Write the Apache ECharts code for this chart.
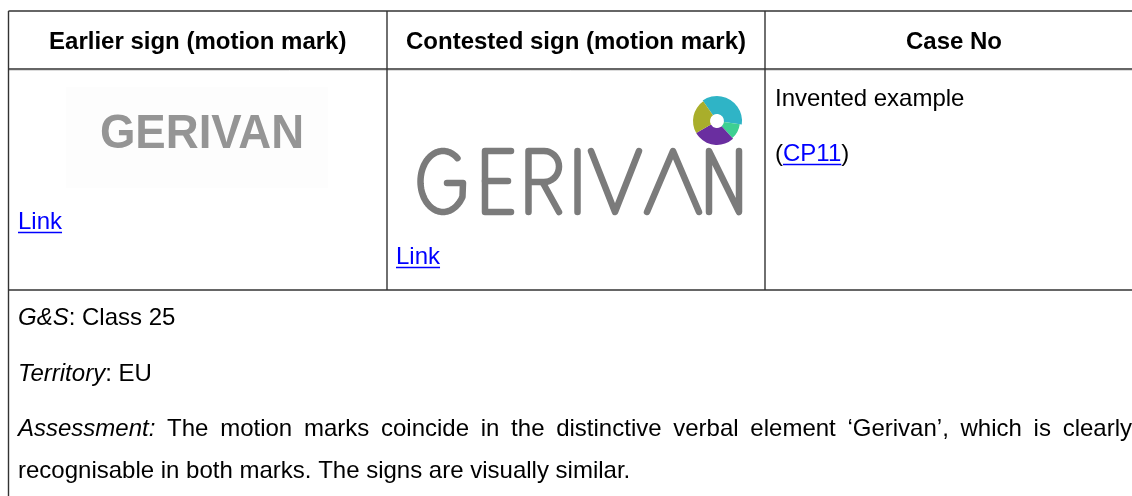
<!DOCTYPE html>
<html>
<head>
<meta charset="utf-8">
<script src="https://cdn.jsdelivr.net/npm/echarts@6/dist/echarts.min.js"></script>
<style>
  html, body { margin: 0; padding: 0; background: #ffffff; }
  #chart { width: 1132px; height: 496px; }
</style>
</head>
<body>
<div id="chart"></div>
<script>
// ---- content ----
const headers = ['Earlier sign (motion mark)', 'Contested sign (motion mark)', 'Case No'];
const linkLabel = 'Link';
const logoWord = 'GERIVAN';
const caseNote = 'Invented example';
const caseRef = ['(', 'CP11', ')'];
const detailLabels = ['G&S', 'Territory'];
const detailValues = [': Class 25', ': EU'];
const assessmentLabel = 'Assessment:';
const assessmentLines = [
  'The motion marks coincide in the distinctive verbal element \u2018Gerivan\u2019, which is clearly',
  'recognisable in both marks. The signs are visually similar.'
];
const swirlColors = ['#2fb4c6', '#3ecf92', '#6a2ea0', '#a9ae2b'];

// ---- layout ----
const FAM = '"Liberation Sans", Arial, Helvetica, sans-serif';
const FS = 24;
const DY = 2;
const colX = [8.5, 387, 765, 1143];
const rowY = [11, 69, 290, 530];
const BORDER = '#333333';
const BLUE = '#0000ff';

const mctx = document.createElement('canvas').getContext('2d');
function measure(text, style, weight) {
  mctx.font = (style || 'normal') + ' ' + (weight || 'normal') + ' ' + FS + 'px ' + FAM;
  return mctx.measureText(text).width;
}

const els = [];
function txt(x, y, text, opt) {
  opt = opt || {};
  els.push({
    type: 'text', x: x, y: y + DY, silent: true,
    style: {
      text: text, x: 0, y: 0,
      fill: opt.fill || '#000000',
      font: (opt.style || 'normal') + ' ' + (opt.weight || 'normal') + ' ' + (opt.size || FS) + 'px ' + FAM,
      align: opt.align || 'left', verticalAlign: 'middle'
    },
    scaleX: opt.scaleX || 1
  });
}
function line(x1, y1, x2, y2, color, w) {
  els.push({ type: 'line', silent: true, shape: { x1: x1, y1: y1, x2: x2, y2: y2 },
    style: { stroke: color, lineWidth: w || 1 } });
}
function link(x, y, text) {
  txt(x, y, text, { fill: BLUE });
  const w = measure(text);
  line(x, y + DY + 10.5, x + w, y + DY + 10.5, BLUE, 1.3);
  return w;
}

// borders
line(colX[0], rowY[0], 1132, rowY[0], BORDER, 1.4);
line(colX[0], rowY[1], 1132, rowY[1], BORDER, 1.4);
line(colX[0], rowY[1] + 1.5, 1132, rowY[1] + 1.5, '#dcdcdc', 1);
line(colX[0], rowY[2], 1132, rowY[2], BORDER, 1.4);
line(colX[0], rowY[0], colX[0], 496, BORDER, 1.4);
line(colX[1], rowY[0], colX[1], rowY[2], BORDER, 1.4);
line(colX[2], rowY[0], colX[2], rowY[2], BORDER, 1.4);

// headers
headers.forEach(function (h, i) {
  txt((colX[i] + colX[i + 1]) / 2, 40, h, { weight: 'bold', align: 'center' });
});

// earlier logo (raster-like, bold grey)
els.push({ type: 'rect', silent: true, shape: { x: 66, y: 87, width: 262, height: 101 },
  style: { fill: '#fdfdfd' } });
els.push({
  type: 'text', x: 202, y: 134, scaleX: 0.93, silent: true,
  style: { text: logoWord, x: 0, y: 0, fill: '#959595', font: 'bold 49px ' + FAM,
    align: 'center', verticalAlign: 'middle', shadowBlur: 2, shadowColor: 'rgba(150,150,150,0.7)' }
});
link(18, 220, linkLabel);

// contested logo: thin geometric letters
const LW = 6.5, LC = '#7b7b7b';
function pl(points) {
  els.push({ type: 'polyline', silent: true, shape: { points: points },
    style: { stroke: LC, lineWidth: LW, lineCap: 'round', lineJoin: 'round', fill: null } });
}
(function () {
  const g = [];
  const cx = 443, cy = 181.5, rx = 22.5, ry = 30.5;
  for (let a = -50; a >= -330; a -= 5) {
    const r = a * Math.PI / 180;
    g.push([cx + rx * Math.cos(r), cy + ry * Math.sin(r)]);
  }
  g.push([463, 183], [447, 183]);
  pl(g);
  // E
  pl([[511, 151], [485, 151], [485, 212], [511, 212]]);
  pl([[485, 181], [508, 181]]);
  // R
  const rp = [[528.5, 212], [528.5, 151], [544, 151]];
  for (let a = -90; a <= 90; a += 10) {
    const r = a * Math.PI / 180;
    rp.push([544 + 15 * Math.cos(r), 166.5 + 15.5 * Math.sin(r)]);
  }
  rp.push([528.5, 182]);
  pl(rp);
  pl([[543, 183], [559, 212]]);
  // I
  pl([[577.5, 151], [577.5, 212]]);
  // V
  pl([[591, 151], [615, 212], [639, 151]]);
  // A
  pl([[647, 212], [673, 151], [699, 212]]);
  // N
  pl([[709, 212], [709, 151], [739, 212], [739, 151]]);
})();
// swirl emblem
(function () {
  const cx = 717, cy = 121;
  const spans = [[-125, 8, 25], [8, 48, 23], [48, 150, 24], [150, 235, 24]];
  spans.forEach(function (s, i) {
    els.push({ type: 'sector', silent: true,
      shape: { cx: cx, cy: cy, r0: 7, r: s[2], startAngle: s[0] * Math.PI / 180, endAngle: s[1] * Math.PI / 180, clockwise: true },
      style: { fill: swirlColors[i] } });
  });
  els.push({ type: 'circle', silent: true, shape: { cx: cx, cy: cy, r: 6 }, style: { fill: '#ffffff' } });
})();
link(396, 255, linkLabel);

// case column
txt(775, 97, caseNote);
(function () {
  let x = 775;
  txt(x, 152, caseRef[0]); x += measure(caseRef[0]);
  x += link(x, 152, caseRef[1]);
  txt(x, 152, caseRef[2]);
})();

// details
const detailY = [316, 372];
detailLabels.forEach(function (lab, i) {
  txt(18, detailY[i], lab, { style: 'italic' });
  txt(18 + measure(lab, 'italic'), detailY[i], detailValues[i]);
});

// assessment paragraph (justified first line)
(function () {
  const left = 18, right = 1132;
  const words = [{ t: assessmentLabel, s: 'italic' }].concat(
    assessmentLines[0].split(' ').map(function (w) { return { t: w, s: 'normal' }; }));
  let sum = 0;
  words.forEach(function (w) { w.w = measure(w.t, w.s); sum += w.w; });
  const gap = (right - left - sum) / (words.length - 1);
  let x = left;
  words.forEach(function (w) {
    txt(x, 427, w.t, { style: w.s });
    x += w.w + gap;
  });
  txt(left, 469, assessmentLines[1]);
})();

const chart = echarts.init(document.getElementById('chart'), null, { renderer: 'canvas' });
chart.setOption({
  backgroundColor: '#ffffff',
  animation: false,
  graphic: { elements: els }
});
</script>
</body>
</html>
